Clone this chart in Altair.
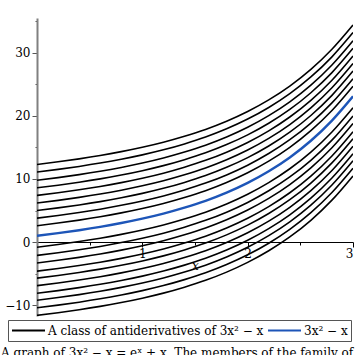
import altair as alt
import pandas as pd

# sample x positions and the blue curve
x_vals = [0.0, 0.2, 0.4, 0.6, 0.8, 1.0, 1.2, 1.4, 1.6, 1.8, 2.0, 2.2, 2.4, 2.6, 2.8, 3.0]
base_vals = [1.0, 1.42, 1.89, 2.42, 3.03, 3.72, 4.52, 5.46, 6.55, 7.85, 9.39,
             11.23, 13.42, 16.06, 19.25, 23.09]
# starting heights (at x = 0) of the black family members
black_starts = [12.3, 11.1, 9.8, 8.6, 7.4, 6.2, 5.0, 3.8, 2.6, -0.8, -2.1, -3.3,
                -4.6, -5.7, -6.9, -8.1, -9.2, -10.4, -11.6]
series_labels = ["A class of antiderivatives of 3x² − x", "3x² − x"]
series_colors = ["black", "#1d55b8"]
y_ticks = [-10, -5, 0, 5, 10, 15, 20, 25, 30, 35]
x_ticks = [0.5, 1, 1.5, 2, 2.5, 3]
caption = ["A graph of 3x² − x = eˣ + x. The members of the family of antiderivatives"]

rows = []
for i, s in enumerate(black_starts):
    shift = s - base_vals[0]
    for xv, bv in zip(x_vals, base_vals):
        rows.append({"x": xv, "y": bv + shift, "curve": f"c{i}", "series": series_labels[0]})
black_df = pd.DataFrame(rows)
blue_df = pd.DataFrame({"x": x_vals, "y": base_vals, "series": series_labels[1]})
cap_df = pd.DataFrame({"t": caption})

serif = "DejaVu Serif"

x_enc = alt.X(
    "x:Q",
    scale=alt.Scale(domain=[0, 3], nice=False, zero=False),
    axis=alt.Axis(
        values=x_ticks,
        labelExpr="datum.value % 1 == 0 ? format(datum.value, 'd') : ''",
        tickSize={"condition": {"test": "datum.value % 1 == 0", "value": 5}, "value": 3},
        offset=-74,
        grid=False,
        domainColor="black",
        tickColor="black",
        labelFont=serif,
        labelFontSize=12,
        labelColor="black",
        labelPadding=1,
        title="x",
        titleFont=serif,
        titleFontStyle="italic",
        titleFontWeight="normal",
        titleFontSize=12,
        titlePadding=1,
    ),
)
y_enc = alt.Y(
    "y:Q",
    scale=alt.Scale(domain=[-11.7, 35.5], nice=False, zero=False),
    axis=alt.Axis(
        values=y_ticks,
        labelExpr="datum.value % 10 == 0 ? datum.label : ''",
        tickSize={"condition": {"test": "datum.value % 10 == 0", "value": 5}, "value": 2},
        grid=False,
        domainColor="#808080",
        domainWidth=2,
        tickColor="#555555",
        labelFont=serif,
        labelFontSize=12,
        labelColor="black",
        labelPadding=2,
    ),
    title=None,
)
color_enc = alt.Color(
    "series:N",
    scale=alt.Scale(domain=series_labels, range=series_colors),
    legend=alt.Legend(
        orient="none",
        legendX=-29,
        legendY=302,
        direction="horizontal",
        title=None,
        symbolType="stroke",
        symbolSize=1089,
        symbolStrokeWidth=2,
        clipHeight=15,
        labelFont=serif,
        labelFontSize=12,
        labelColor="black",
        labelLimit=400,
        strokeColor="#555555",
        padding=3,
        columnPadding=3,
        labelOffset=2,
    ),
)

black = alt.Chart(black_df).mark_line(strokeWidth=1.6, clip=True, interpolate="monotone").encode(
    x=x_enc, y=y_enc, color=color_enc, detail="curve:N"
)
blue = alt.Chart(blue_df).mark_line(strokeWidth=2.4, clip=True, interpolate="monotone").encode(
    x=x_enc, y=y_enc, color=color_enc
)
cap = alt.Chart(cap_df).mark_text(
    align="left", baseline="alphabetic", font=serif, fontSize=12, color="black"
).encode(text="t:N", x=alt.value(-36), y=alt.value(339))

chart = (
    alt.layer(black, blue, cap)
    .properties(
        width=316,
        height=298,
        autosize=alt.AutoSizeParams(type="none"),
        padding={"left": 37, "top": 18, "right": 2, "bottom": 39},
    )
    .configure_view(stroke=None)
)

chart.save("out.html", embed_options={"renderer": "svg", "actions": False})
